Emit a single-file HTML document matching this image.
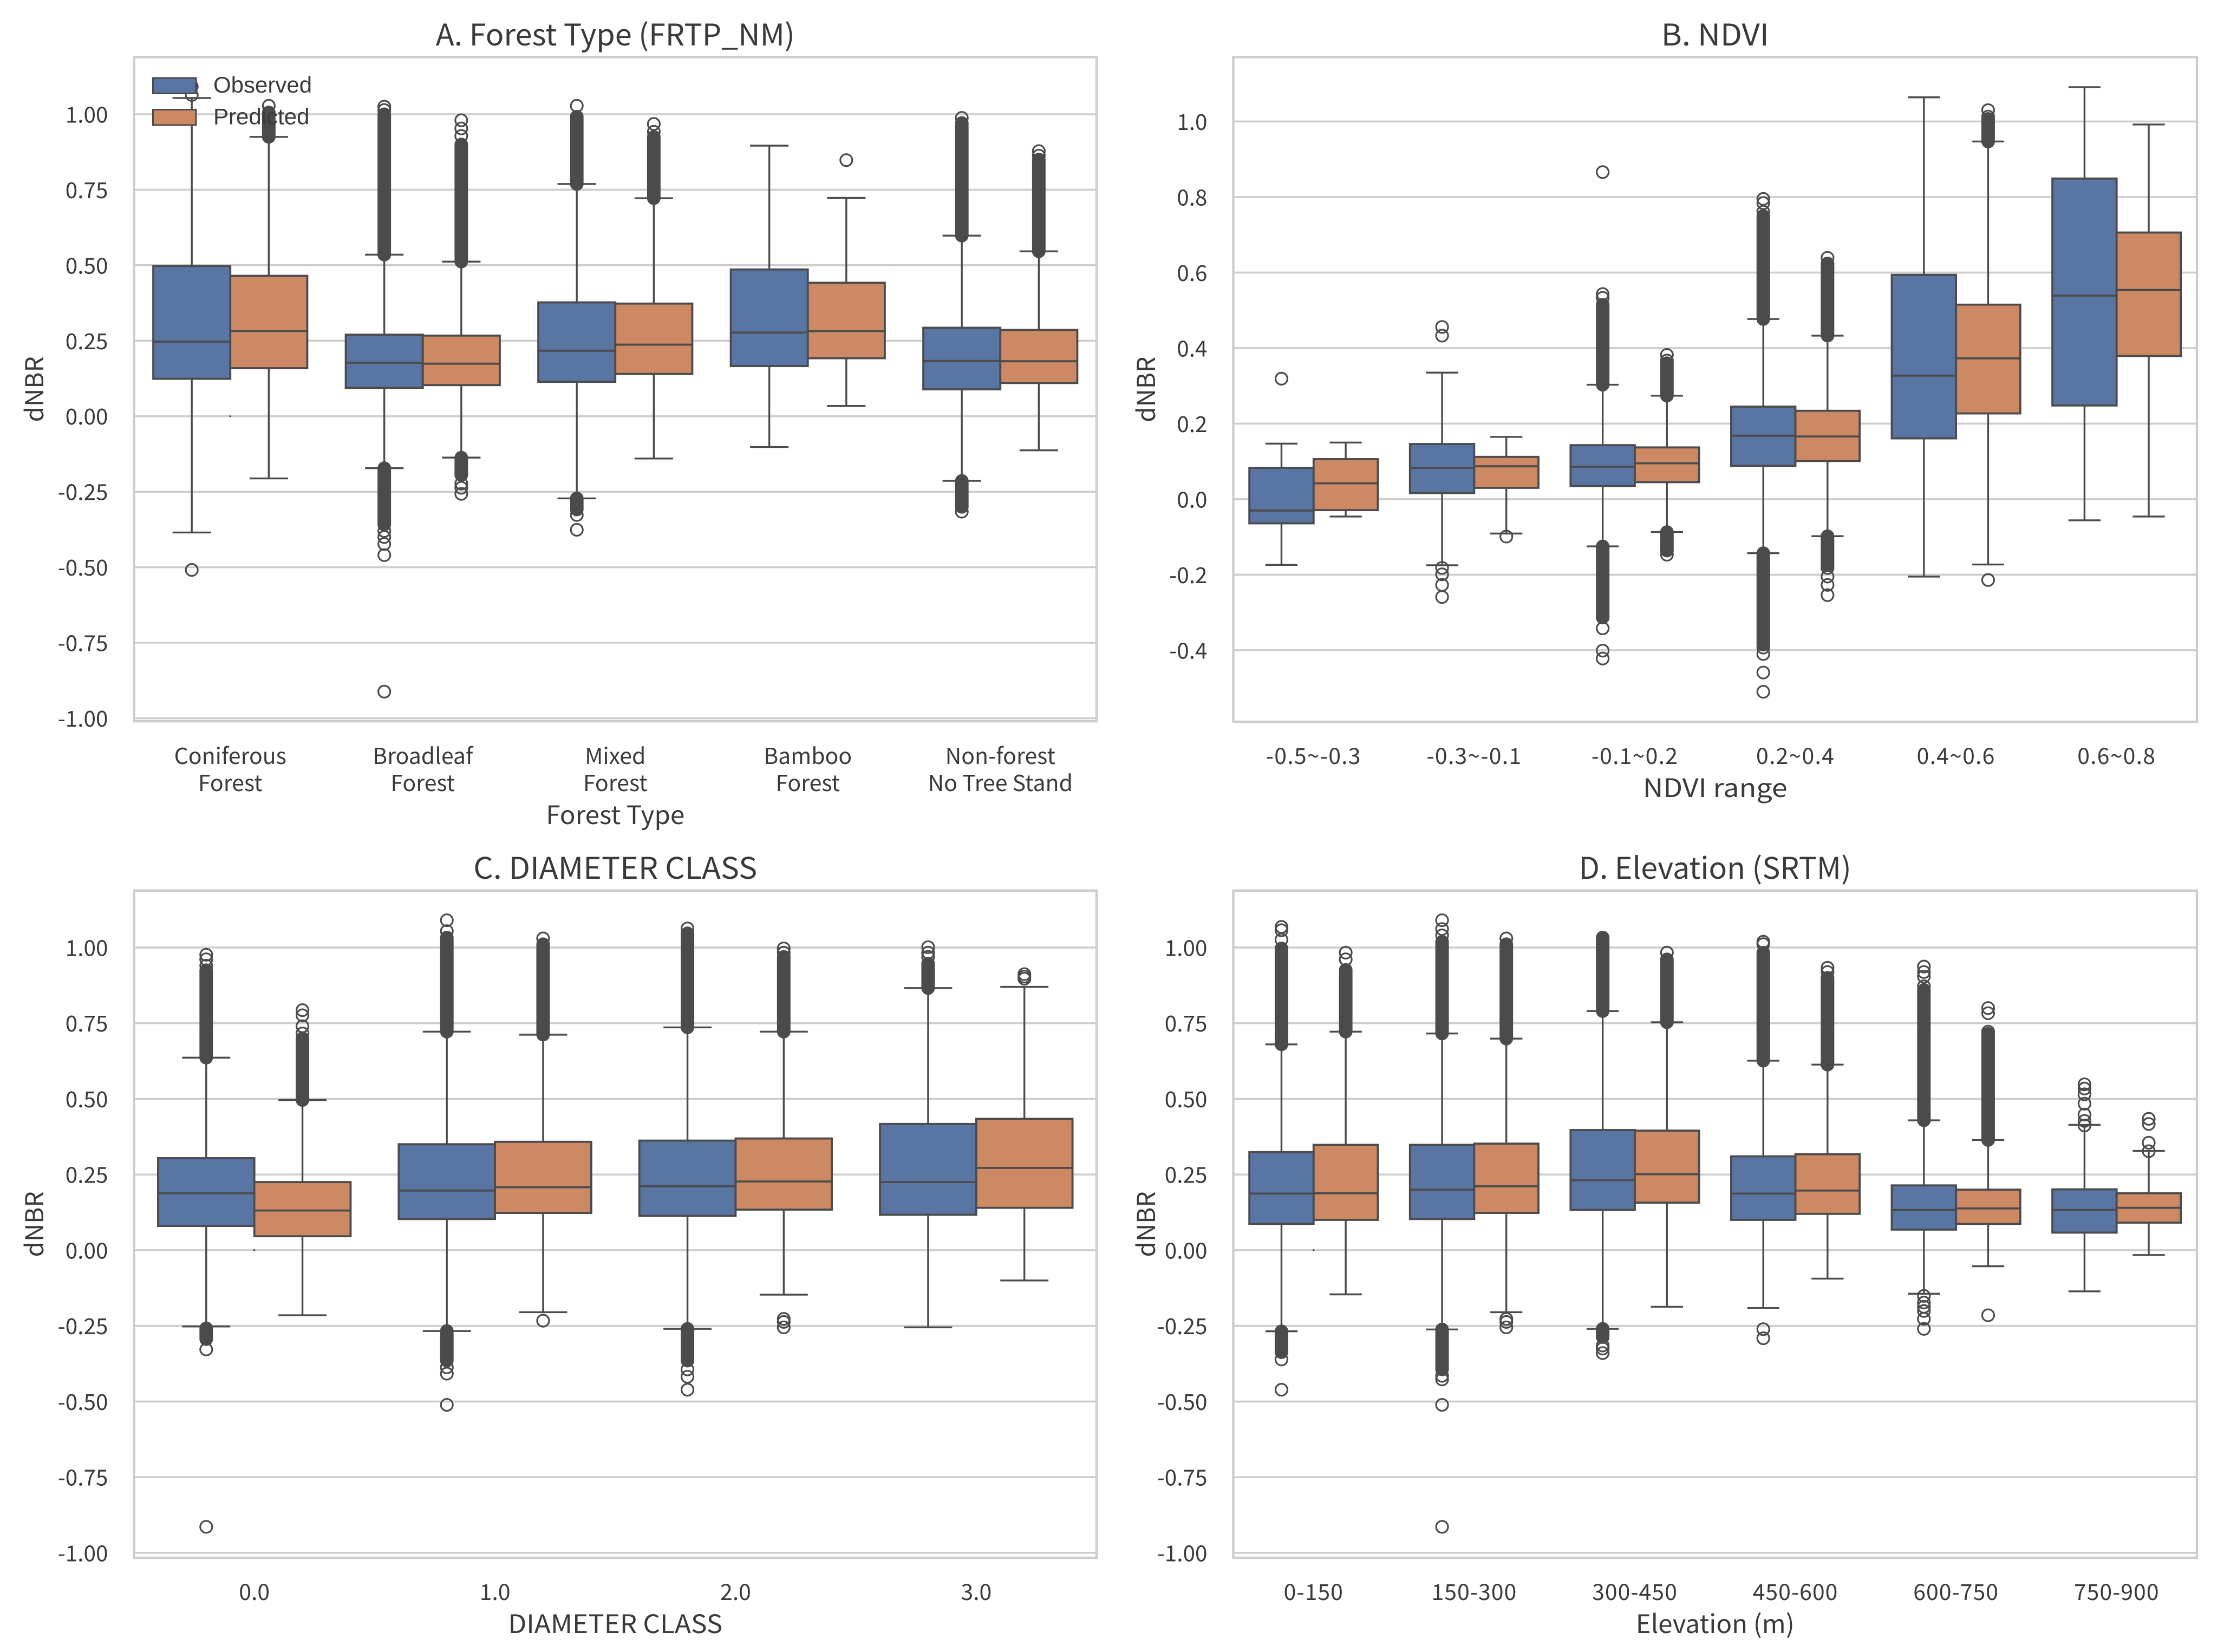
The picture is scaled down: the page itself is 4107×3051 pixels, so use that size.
<!DOCTYPE html>
<html lang="en">
<head>
<meta charset="utf-8">
<title>dNBR boxplots: observed vs predicted</title>
<style>
html,body{margin:0;padding:0;background:#fff;}
svg{display:block;}
text{font-family:"Noto Sans CJK KR","Liberation Sans",sans-serif;fill:#3a3a3a;}
.legend-label{font-family:"Liberation Sans",sans-serif;}
</style>
</head>
<body>
<svg id="figure" width="4107" height="3051" viewBox="0 0 4107 3051"></svg>
<script>
/* ---------- Panel A: Forest Type ---------- */
const aCategories = ["Coniferous\nForest","Broadleaf\nForest","Mixed\nForest","Bamboo\nForest","Non-forest\nNo Tree Stand"];
const aTicks = [-1,-0.75,-0.5,-0.25,0,0.25,0.5,0.75,1];
const aTickLabels = ["-1.00","-0.75","-0.50","-0.25","0.00","0.25","0.50","0.75","1.00"];
/* each row: whisker-low, q1, median, q3, whisker-high */
const aObsStats = [[-0.385,0.124,0.247,0.4975,1.054],[-0.172,0.094,0.177,0.27,0.535],[-0.272,0.114,0.217,0.377,0.769],[-0.102,0.166,0.277,0.486,0.896],[-0.214,0.089,0.183,0.293,0.598]];
const aPredStats = [[-0.206,0.159,0.282,0.465,0.925],[-0.137,0.103,0.174,0.267,0.512],[-0.14,0.14,0.237,0.373,0.722],[0.034,0.192,0.282,0.442,0.723],[-0.113,0.11,0.182,0.286,0.546]];
/* dense outlier runs: [from, to] */
const aObsBands = [[],[[0.535,1.0],[-0.359,-0.172]],[[0.769,0.992],[-0.309,-0.272]],[],[[0.598,0.971],[-0.295,-0.214]]];
const aPredBands = [[[0.925,1.006]],[[0.512,0.9],[-0.19,-0.137]],[[0.722,0.925]],[],[[0.546,0.85]]];
const aObsFliers = [[-0.509,1.064,1.092],[1.025,1.014,-0.38,-0.4,-0.423,-0.46,-0.912],[1.028,-0.327,-0.376],[],[0.988,-0.3,-0.316]];
const aPredFliers = [[1.028],[0.98,0.953,0.928,-0.194,-0.223,-0.237,-0.257],[0.968,0.942],[0.848],[0.878,0.863]];

/* ---------- Panel B: NDVI ---------- */
const bCategories = ["-0.5~-0.3","-0.3~-0.1","-0.1~0.2","0.2~0.4","0.4~0.6","0.6~0.8"];
const bTicks = [-0.4,-0.2,0,0.2,0.4,0.6,0.8,1];
const bTickLabels = ["-0.4","-0.2","0.0","0.2","0.4","0.6","0.8","1.0"];
const bObsStats = [[-0.174,-0.064,-0.03,0.083,0.147],[-0.175,0.016,0.083,0.146,0.335],[-0.125,0.035,0.086,0.143,0.303],[-0.143,0.088,0.168,0.245,0.477],[-0.205,0.161,0.327,0.594,1.064],[-0.056,0.248,0.539,0.849,1.091]];
const bPredStats = [[-0.046,-0.029,0.042,0.106,0.15],[-0.091,0.03,0.087,0.112,0.165],[-0.087,0.045,0.095,0.137,0.274],[-0.098,0.101,0.166,0.234,0.433],[-0.173,0.227,0.373,0.515,0.947],[-0.046,0.379,0.554,0.706,0.992]];
const bObsBands = [[],[],[[0.303,0.515],[-0.31,-0.125]],[[0.477,0.75],[-0.385,-0.143]],[],[]];
const bPredBands = [[],[],[[0.274,0.36],[-0.135,-0.087]],[[0.433,0.62],[-0.175,-0.098]],[[0.947,1.007]],[]];
const bObsFliers = [[0.319],[0.456,0.433,-0.182,-0.199,-0.227,-0.259],[0.866,0.543,0.533,-0.313,-0.342,-0.401,-0.422],[0.795,0.784,0.761,-0.393,-0.41,-0.459,-0.51],[],[]];
const bPredFliers = [[],[-0.099],[0.382,0.367,-0.136,-0.147],[0.639,0.624,-0.182,-0.205,-0.227,-0.254],[1.03,1.013,-0.214],[]];

/* ---------- Panel C: Diameter class ---------- */
const cCategories = ["0.0","1.0","2.0","3.0"];
const cTicks = [-1,-0.75,-0.5,-0.25,0,0.25,0.5,0.75,1];
const cTickLabels = ["-1.00","-0.75","-0.50","-0.25","0.00","0.25","0.50","0.75","1.00"];
const cObsStats = [[-0.252,0.08,0.188,0.304,0.636],[-0.267,0.103,0.197,0.35,0.722],[-0.26,0.113,0.211,0.362,0.736],[-0.255,0.117,0.225,0.417,0.866]];
const cPredStats = [[-0.215,0.046,0.131,0.225,0.496],[-0.205,0.123,0.208,0.358,0.712],[-0.147,0.134,0.227,0.369,0.722],[-0.1,0.14,0.272,0.434,0.87]];
const cObsBands = [[[0.636,0.925],[-0.294,-0.258]],[[0.722,1.033],[-0.365,-0.267]],[[0.736,1.047],[-0.365,-0.26]],[[0.866,0.947]]];
const cPredBands = [[[0.496,0.7]],[[0.712,1.011]],[[0.722,0.969]],[]];
const cObsFliers = [[0.976,0.961,0.94,-0.328,-0.914],[1.09,1.054,-0.387,-0.408,-0.511],[1.063,-0.394,-0.418,-0.461],[1.001,0.983,0.969]];
const cPredFliers = [[0.793,0.776,0.74,0.716],[1.03,-0.233],[0.997,0.983,-0.227,-0.237,-0.255],[0.912,0.904,0.897]];

/* ---------- Panel D: Elevation ---------- */
const dCategories = ["0-150","150-300","300-450","450-600","600-750","750-900"];
const dTicks = [-1,-0.75,-0.5,-0.25,0,0.25,0.5,0.75,1];
const dTickLabels = ["-1.00","-0.75","-0.50","-0.25","0.00","0.25","0.50","0.75","1.00"];
const dObsStats = [[-0.268,0.087,0.187,0.324,0.68],[-0.262,0.103,0.2,0.348,0.716],[-0.26,0.133,0.231,0.397,0.79],[-0.191,0.1,0.187,0.31,0.626],[-0.144,0.068,0.133,0.214,0.429],[-0.136,0.058,0.133,0.201,0.414]];
const dPredStats = [[-0.146,0.1,0.188,0.348,0.722],[-0.205,0.123,0.211,0.352,0.699],[-0.187,0.157,0.251,0.395,0.753],[-0.094,0.12,0.197,0.317,0.613],[-0.053,0.087,0.138,0.2,0.364],[-0.016,0.091,0.14,0.188,0.328]];
const dObsBands = [[[0.68,0.997],[-0.337,-0.268]],[[0.716,1.019],[-0.394,-0.262]],[[0.79,1.033],[-0.287,-0.26]],[[0.626,0.983]],[[0.429,0.86]],[]];
const dPredBands = [[[0.722,0.926]],[[0.699,1.011]],[[0.753,0.961]],[[0.613,0.9]],[[0.364,0.715]],[]];
const dObsFliers = [[1.068,1.057,1.026,-0.361,-0.461],[1.09,1.061,1.04,-0.415,-0.427,-0.511,-0.914],[-0.315,-0.325,-0.34],[1.019,1.011,-0.261,-0.291],[0.937,0.919,0.904,0.872,-0.151,-0.173,-0.187,-0.201,-0.227,-0.26],[0.548,0.534,0.515,0.484,0.448,0.427,0.412]];
const dPredFliers = [[0.983,0.961],[1.03,-0.227,-0.237,-0.255],[0.983],[0.933,0.919],[0.8,0.783,0.722,-0.215],[0.434,0.417,0.355,0.327]];

const seriesNames = ["Observed","Predicted"];
const seriesColors = ["#5875a4","#cc8963"];
const lineColor = "#4b4b4b";

const panels = [
  {key:"forest-type",title:"A. Forest Type (FRTP_NM)",titleW:663,xLabel:"Forest Type",xLabelW:256,tickSpacing:0,cats:aCategories,ticks:aTicks,tickLabels:aTickLabels,stats:[aObsStats,aPredStats],bands:[aObsBands,aPredBands],fliers:[aObsFliers,aPredFliers],
   left:247.5,right:2025,top:105.6,bottom:1332,domain:[-1.01,1.189],tickBase:1411,labelBase:1522,labelX:80,stray:true,legend:true},
  {key:"ndvi",title:"B. NDVI",titleW:199,xLabel:"NDVI range",xLabelW:267,tickSpacing:1.2,cats:bCategories,ticks:bTicks,tickLabels:bTickLabels,stats:[bObsStats,bPredStats],bands:[bObsBands,bPredBands],fliers:[bObsFliers,bPredFliers],
   left:2277.5,right:4057,top:105.6,bottom:1333,domain:[-0.5894,1.1703],tickBase:1411,labelBase:1472,labelX:2133,stray:false,legend:false},
  {key:"diameter-class",title:"C. DIAMETER CLASS",titleW:524,xLabel:"DIAMETER CLASS",xLabelW:396,tickSpacing:0,cats:cCategories,ticks:cTicks,tickLabels:cTickLabels,stats:[cObsStats,cPredStats],bands:[cObsBands,cPredBands],fliers:[cObsFliers,cPredFliers],
   left:247.5,right:2025,top:1644.8,bottom:2877,domain:[-1.0163,1.188],tickBase:2955,labelBase:3016,labelX:80,stray:true,legend:false},
  {key:"elevation",title:"D. Elevation (SRTM)",titleW:503,xLabel:"Elevation (m)",xLabelW:293,tickSpacing:1,cats:dCategories,ticks:dTicks,tickLabels:dTickLabels,stats:[dObsStats,dPredStats],bands:[dObsBands,dPredBands],fliers:[dObsFliers,dPredFliers],
   left:2277.5,right:4057,top:1644.8,bottom:2877,domain:[-1.0163,1.188],tickBase:2955,labelBase:3016,labelX:2133,stray:true,legend:false}
];

const svg = document.getElementById("figure");
const ns = svg.namespaceURI;

function make(parent, tag, attrs, txt) {
  const el = document.createElementNS(ns, tag);
  for (const k in attrs) el.setAttribute(k, attrs[k]);
  if (txt !== undefined) el.textContent = txt;
  parent.appendChild(el);
  return el;
}

function drawPanel(p) {
  const n = p.cats.length;
  const catW = (p.right - p.left) / n;
  const x = v => p.left + (v + 0.5) * catW;
  const y = v => p.bottom - (v - p.domain[0]) / (p.domain[1] - p.domain[0]) * (p.bottom - p.top);

  const g = make(svg, "g", {});
  
  

  const title = make(g, "text", {x:(p.left+p.right)/2, y:p.top-21.6, "text-anchor":"middle", "font-size":55, textLength:p.titleW, lengthAdjust:"spacingAndGlyphs"}, p.title);
  
  

  p.ticks.forEach((t, i) => {
    const grid = make(g, "line", {x1:p.left, x2:p.right, y1:y(t), y2:y(t), stroke:"#cdcdcd", "stroke-width":3.6});
    
    
    const lab = make(g, "text", {x:p.left-48, y:y(t)+15.5, "text-anchor":"end", "font-size":40.5}, p.tickLabels[i]);
    
    
  });

  p.cats.forEach((c, i) => {
    c.split("\n").forEach((line, j) => {
      const lab = make(g, "text", {x:x(i), y:p.tickBase + j*50, "text-anchor":"middle", "font-size":41, "letter-spacing":p.tickSpacing}, line);
      
      
    });
  });

  const xl = make(g, "text", {x:(p.left+p.right)/2, y:p.labelBase, "text-anchor":"middle", "font-size":47, textLength:p.xLabelW, lengthAdjust:"spacingAndGlyphs"}, p.xLabel);
  
  

  const cy = (p.top+p.bottom)/2;
  const yl = make(g, "text", {x:p.labelX, y:cy, "text-anchor":"middle", "font-size":46, transform:"rotate(-90 "+p.labelX+" "+cy+")"}, "dNBR");
  
  

  seriesNames.forEach((name, s) => {
    const offset = s === 0 ? -0.2 : 0.2;
    p.stats[s].forEach((row, i) => {
      const [lo, q1, med, q3, hi] = row;
      const cx = x(i + offset);
      const hw = 0.2 * catW;
      const capW = 0.1 * catW;
      const sg = make(g, "g", {});
      
      

      const box = make(sg, "rect", {x:cx-hw, y:y(q3), width:2*hw, height:y(q1)-y(q3), fill:seriesColors[s], stroke:lineColor, "stroke-width":3.8});
      
      

      const m = make(sg, "line", {x1:cx-hw, x2:cx+hw, y1:y(med), y2:y(med), stroke:lineColor, "stroke-width":3.8});
      
      

      const w1 = make(sg, "line", {x1:cx, x2:cx, y1:y(q3), y2:y(hi), stroke:lineColor, "stroke-width":3.4});
      
      
      const w2 = make(sg, "line", {x1:cx, x2:cx, y1:y(q1), y2:y(lo), stroke:lineColor, "stroke-width":3.4});
      
      
      const c1 = make(sg, "line", {x1:cx-capW, x2:cx+capW, y1:y(hi), y2:y(hi), stroke:lineColor, "stroke-width":3.4});
      
      
      const c2 = make(sg, "line", {x1:cx-capW, x2:cx+capW, y1:y(lo), y2:y(lo), stroke:lineColor, "stroke-width":3.4});
      
      

      p.bands[s][i].forEach(b => {
        const band = make(sg, "line", {x1:cx, x2:cx, y1:y(b[0]), y2:y(b[1]), stroke:lineColor, "stroke-width":25, "stroke-linecap":"round"});
        
        
      });
      p.fliers[s][i].forEach(f => {
        const dot = make(sg, "circle", {cx:cx, cy:y(f), r:11, fill:"none", stroke:lineColor, "stroke-width":3.2});
        
        
      });
    });
  });

  if (p.stray) {
    const speck = make(g, "circle", {cx:x(0), cy:y(0), r:1.6, fill:"#333"});
    
    
  }

  const frame = make(g, "rect", {x:p.left, y:p.top, width:p.right-p.left, height:p.bottom-p.top, fill:"none", stroke:"#cdcdcd", "stroke-width":4.4});
  
  

  if (p.legend) {
    const lg = make(g, "g", {});
    
    
    seriesNames.forEach((name, s) => {
      const top = 144 + s*58.5;
      const sw = make(lg, "rect", {x:282.5, y:top, width:79.5, height:28.5, fill:seriesColors[s], stroke:lineColor, "stroke-width":3});
      
      
      const t = make(lg, "text", {x:394, y:top+27, "font-size":42, class:"legend-label"}, name);
      
      
    });
  }
}

panels.forEach(drawPanel);
</script>
</body>
</html>
